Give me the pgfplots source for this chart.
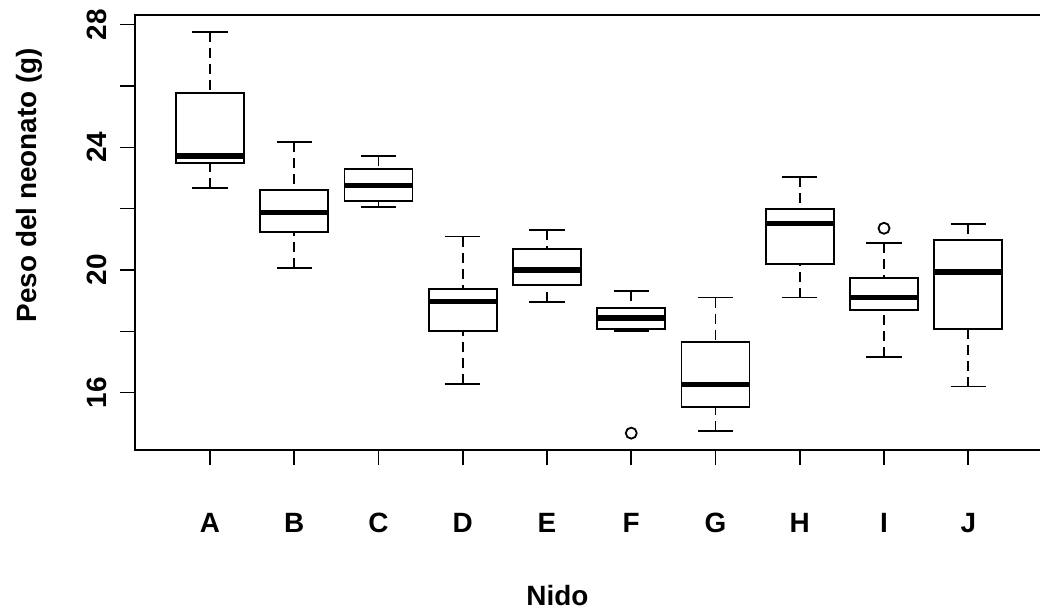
\documentclass[border=0pt]{standalone}
\usepackage{fontspec}
\setmainfont{Liberation Sans}
\usepackage{pgfplots}
\pgfplotsset{compat=1.18}
\usepgfplotslibrary{statistics}

\begin{document}
\begin{tikzpicture}
\path[use as bounding box] (0,0) rectangle (1040bp,613bp);
\begin{axis}[
  at={(135bp,163bp)}, anchor=south west,
  scale only axis, width=915bp, height=435bp,
  xmin=0.11, xmax=10.97, ymin=14.13, ymax=28.315,
  xtick={1,...,10}, xticklabels={A,B,C,D,E,F,G,H,I,J},
  ytick={16,18,...,28}, yticklabels={16,,20,,24,,28},
  tick pos=left, tick align=outside, major tick length=15bp,
  every tick/.style={black, line width=1.6bp},
  axis line style={line width=1.6bp},
  ticklabel style={font=\fontsize{28}{30}\selectfont\bfseries},
  xticklabel style={anchor=base}, xticklabel shift=67.7bp,
  yticklabel style={rotate=90, anchor=base}, yticklabel shift=14bp,
  label style={font=\fontsize{28}{30}\selectfont\bfseries},
  xlabel={Nido}, ylabel={Peso del neonato (g)},
  xlabel style={at={([yshift=-155bp]rel axis cs:0.4617,0)}, anchor=base},
  ylabel style={at={([xshift=-98bp]rel axis cs:0,0.609)}, anchor=base},
  boxplot/draw direction=y,
  boxplot/box extend=0.807,
  boxplot/whisker extend=0.42,
  boxplot/every median/.style={line width=5.5bp},
  boxplot/draw/lower whisker/.code={%
    \draw[dash pattern=on 10bp off 6bp]
      (boxplot cs:\pgfplotsboxplotvalue{lower whisker})
      -- (boxplot cs:\pgfplotsboxplotvalue{lower quartile});
    \draw (boxplot whisker cs:\pgfplotsboxplotvalue{lower whisker},0)
      -- (boxplot whisker cs:\pgfplotsboxplotvalue{lower whisker},1);
  },
  boxplot/draw/upper whisker/.code={%
    \draw[dash pattern=on 10bp off 6bp]
      (boxplot cs:\pgfplotsboxplotvalue{upper whisker})
      -- (boxplot cs:\pgfplotsboxplotvalue{upper quartile});
    \draw (boxplot whisker cs:\pgfplotsboxplotvalue{upper whisker},0)
      -- (boxplot whisker cs:\pgfplotsboxplotvalue{upper whisker},1);
  },
]
% nido A
\addplot[black, line width=1.8bp, mark=o, mark size=5.5bp, boxplot prepared={draw position=1,
  lower whisker=22.68, lower quartile=23.50, median=23.72, upper quartile=25.78, upper whisker=27.77}] coordinates {};
% B
\addplot[black, line width=1.8bp, mark=o, mark size=5.5bp, boxplot prepared={draw position=2,
  lower whisker=20.07, lower quartile=21.23, median=21.87, upper quartile=22.61, upper whisker=24.18}] coordinates {};
% C
\addplot[black, line width=1.8bp, mark=o, mark size=5.5bp, boxplot prepared={draw position=3,
  lower whisker=22.05, lower quartile=22.26, median=22.76, upper quartile=23.29, upper whisker=23.72}] coordinates {};
% D
\addplot[black, line width=1.8bp, mark=o, mark size=5.5bp, boxplot prepared={draw position=4,
  lower whisker=16.27, lower quartile=18.00, median=18.97, upper quartile=19.37, upper whisker=21.09}] coordinates {};
% E
\addplot[black, line width=1.8bp, mark=o, mark size=5.5bp, boxplot prepared={draw position=5,
  lower whisker=18.96, lower quartile=19.51, median=20.00, upper quartile=20.69, upper whisker=21.30}] coordinates {};
% F, one outlier
\addplot[black, line width=1.8bp, mark=o, mark size=5.5bp, boxplot prepared={draw position=6,
  lower whisker=18.01, lower quartile=18.07, median=18.43, upper quartile=18.75, upper whisker=19.31}]
  table[row sep=\\, y index=0] {data\\ 14.68\\};
% G
\addplot[black, line width=1.8bp, mark=o, mark size=5.5bp, boxplot prepared={draw position=7,
  lower whisker=14.75, lower quartile=15.52, median=16.27, upper quartile=17.64, upper whisker=19.10}] coordinates {};
% H
\addplot[black, line width=1.8bp, mark=o, mark size=5.5bp, boxplot prepared={draw position=8,
  lower whisker=19.10, lower quartile=20.20, median=21.52, upper quartile=21.99, upper whisker=23.02}] coordinates {};
% I, one outlier
\addplot[black, line width=1.8bp, mark=o, mark size=5.5bp, boxplot prepared={draw position=9,
  lower whisker=17.16, lower quartile=18.69, median=19.10, upper quartile=19.73, upper whisker=20.87}]
  table[row sep=\\, y index=0] {data\\ 21.36\\};
% J
\addplot[black, line width=1.8bp, mark=o, mark size=5.5bp, boxplot prepared={draw position=10,
  lower whisker=16.20, lower quartile=18.07, median=19.93, upper quartile=20.97, upper whisker=21.51}] coordinates {};
\end{axis}
\end{tikzpicture}
\end{document}
